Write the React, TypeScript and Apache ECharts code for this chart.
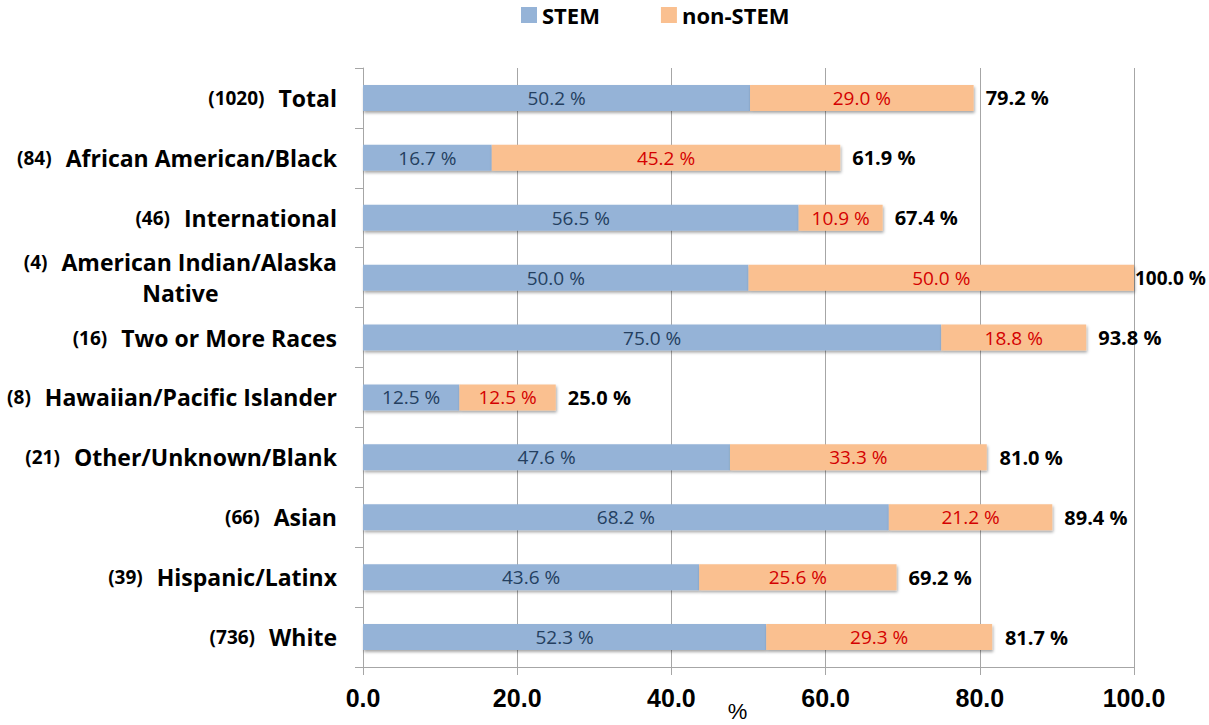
import React, { useEffect, useRef } from "react";
import * as echarts from "echarts";

const categories = [
  "Total",
  "African American/Black",
  "International",
  "American Indian/Alaska Native",
  "Two or More Races",
  "Hawaiian/Pacific Islander",
  "Other/Unknown/Blank",
  "Asian",
  "Hispanic/Latinx",
  "White",
];
const counts = ["1020", "84", "46", "4", "16", "8", "21", "66", "39", "736"];
const stem = [50.2, 16.7, 56.5, 50.0, 75.0, 12.5, 47.6, 68.2, 43.6, 52.3];
const nonStem = [29.0, 45.2, 10.9, 50.0, 18.8, 12.5, 33.3, 21.2, 25.6, 29.3];
const totals = [79.2, 61.9, 67.4, 100.0, 93.8, 25.0, 81.0, 89.4, 69.2, 81.7];
const xTicks = [0, 20, 40, 60, 80, 100];

const FONT = "'Open Sans', 'DejaVu Sans', sans-serif";
const NUM_FONT = "'Liberation Sans', Arial, sans-serif";
const GRID_COLOR = "#A6A6A6";

export default function App() {
  const ref = useRef<HTMLDivElement>(null);
  useEffect(() => {
    if (!ref.current) return;
    const chart = echarts.init(ref.current, undefined, { renderer: "svg" });
    const shadow = {
      shadowColor: "rgba(0,0,0,0.35)",
      shadowBlur: 3,
      shadowOffsetX: 1,
      shadowOffsetY: 2,
    };
    const pct = (p: any) => `${Number(p.value).toFixed(1)} %`;
    const xMax = xTicks[xTicks.length - 1];
    chart.setOption({
      animation: false,
      legend: {
        data: ["STEM", "non-STEM"],
        left: 521,
        top: 3,
        padding: 0,
        itemWidth: 16,
        itemHeight: 16,
        itemGap: 61,
        icon: "rect",
        textStyle: { fontFamily: FONT, fontWeight: "bold", fontSize: 22, lineHeight: 24, color: "#000" },
      },
      grid: { left: 363, right: 75, top: 68, bottom: 58, outerBoundsMode: "none", containLabel: false },
      xAxis: {
        type: "value",
        min: xTicks[0],
        max: xMax,
        interval: 20,
        name: "%",
        nameLocation: "middle",
        nameGap: 33,
        nameMoveOverlap: false,
        nameTextStyle: { fontFamily: NUM_FONT, fontSize: 22, lineHeight: 22, color: "#000", padding: [0, 22, 0, 0] },
        axisLine: { show: true, lineStyle: { color: GRID_COLOR } },
        axisTick: { show: true, length: 8, lineStyle: { color: GRID_COLOR } },
        splitLine: { show: true, lineStyle: { color: GRID_COLOR } },
        axisLabel: {
          margin: 18,
          fontFamily: NUM_FONT,
          fontWeight: "bold",
          fontSize: 25,
          color: "#000",
          formatter: (v: number) => v.toFixed(1),
        },
      },
      yAxis: {
        type: "category",
        inverse: true,
        data: categories,
        axisLine: { show: true, lineStyle: { color: GRID_COLOR } },
        axisTick: { show: true, length: 8, lineStyle: { color: GRID_COLOR } },
        axisLabel: {
          margin: 26,
          color: "#000",
          formatter: (v: string, i: number) => {
            const n = counts[i];
            if (v === "American Indian/Alaska Native") {
              return `{n|(${n})}{g|}{t|American Indian/Alaska}\n{nat|Native}`;
            }
            return `{n|(${n})}{g|}{t|${v}}`;
          },
          rich: {
            n: { fontFamily: FONT, fontWeight: "bold", fontSize: 19, color: "#000" },
            g: { width: 14 },
            t: { fontFamily: FONT, fontWeight: "bold", fontSize: 23, color: "#000", lineHeight: 31 },
            nat: { fontFamily: FONT, fontWeight: "bold", fontSize: 23, color: "#000", align: "center", lineHeight: 31 },
          },
        },
      },
      series: [
        {
          name: "STEM",
          type: "bar",
          stack: "all",
          barWidth: 26,
          barGap: "-100%",
          data: stem,
          itemStyle: { color: "#95B3D7", ...shadow },
          label: { show: true, position: "inside", fontFamily: FONT, fontSize: 19, color: "#243F60", formatter: pct },
        },
        {
          name: "non-STEM",
          type: "bar",
          stack: "all",
          barWidth: 26,
          barGap: "-100%",
          data: nonStem,
          itemStyle: { color: "#FAC090", ...shadow },
          label: { show: true, position: "inside", fontFamily: FONT, fontSize: 19, color: "#D40000", formatter: pct },
        },
        {
          name: "Total",
          type: "bar",
          barWidth: 26,
          barGap: "-100%",
          z: 1,
          silent: true,
          data: totals.map((v) => ({
            value: v,
            label: v >= xMax ? { distance: 1, fontSize: 19 } : undefined,
          })),
          itemStyle: { color: "rgba(0,0,0,0)" },
          label: {
            show: true,
            position: "right",
            distance: 12,
            fontFamily: FONT,
            fontWeight: "bold",
            fontSize: 20,
            color: "#000",
            formatter: pct,
          },
        },
      ],
    });
    return () => chart.dispose();
  }, []);
  return <div ref={ref} style={{ width: 1209, height: 725, position: "absolute", left: 0, top: 0 }} />;
}
